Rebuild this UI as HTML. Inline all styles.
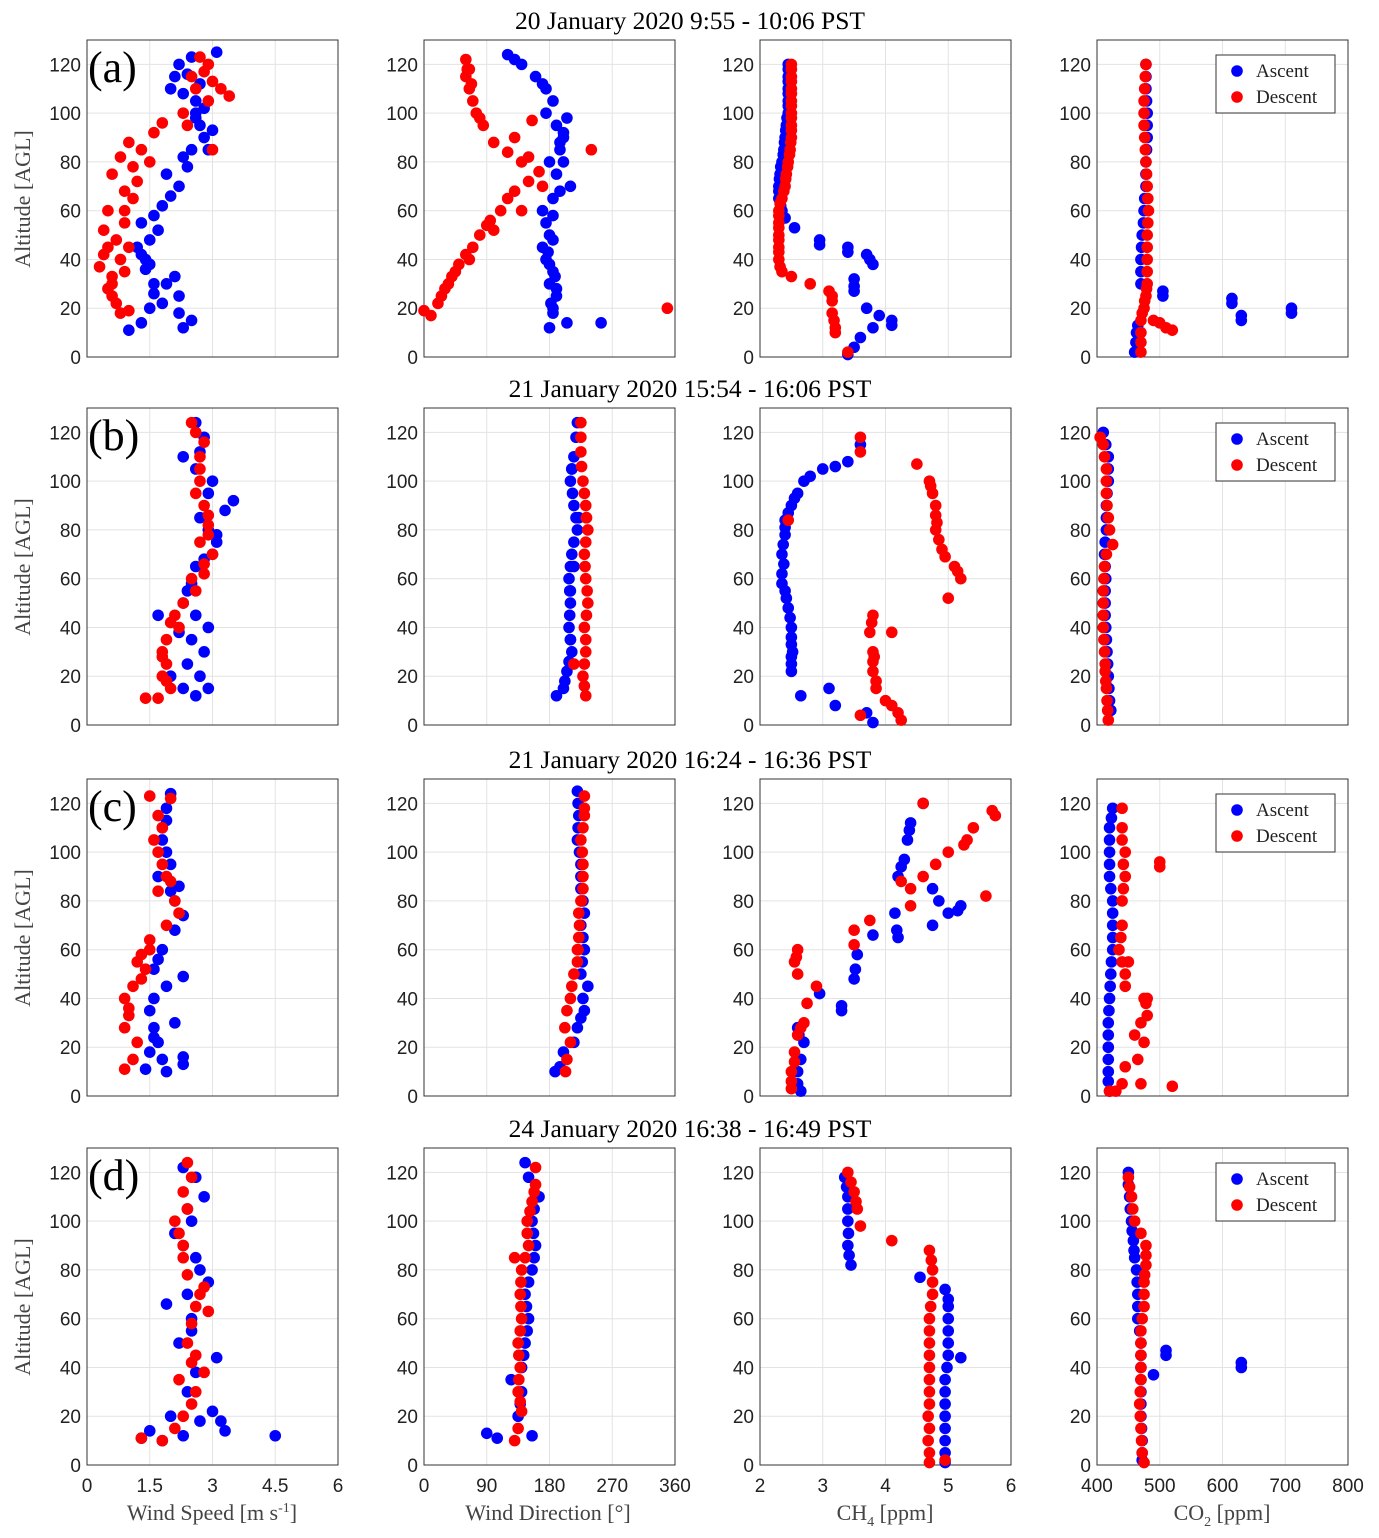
<!DOCTYPE html>
<html><head><meta charset="utf-8"><style>
body{margin:0;background:#fff;}
svg{display:block;}
text{font-family:"Liberation Sans",sans-serif;}
.serif{font-family:"Liberation Serif",serif;}
</style></head><body>
<svg id="fig" width="1379" height="1538" xmlns="http://www.w3.org/2000/svg"></svg>
<script>
// ---- data: [value, altitude] ----
const titles=["20 January 2020 9:55 - 10:06 PST","21 January 2020 15:54 - 16:06 PST","21 January 2020 16:24 - 16:36 PST","24 January 2020 16:38 - 16:49 PST"];
const letters=["(a)","(b)","(c)","(d)"];
const xDomains=[[0,6],[0,360],[2,6],[400,800]];
const xTicks=[[0,1.5,3,4.5,6],[0,90,180,270,360],[2,3,4,5,6],[400,500,600,700,800]];
const yTicks=[0,20,40,60,80,100,120];
const a1Blue=[[1,11],[1.3,14],[1.5,20],[1.8,22],[2.2,25],[2.3,12],[2.5,15],[1.6,30],[1.9,30],[2.1,33],[1.4,40],[1.2,45],[1.5,48],[1.3,55],[1.6,58],[1.8,62],[2,66],[2.2,70],[2.4,78],[2.5,85],[2.8,90],[3,93],[2.6,100],[2.3,108],[2.1,115],[2.2,120],[2.5,123],[3.1,125],[2.7,95],[2.9,85],[2.3,82],[1.9,75],[2.6,105],[2,110],[1.4,36],[1.6,26],[2.4,116],[2.7,112],[1.7,52],[1.3,42],[1.5,38],[2.2,18],[2.6,98],[2.8,102]];
const a1Red=[[0.3,37],[0.5,45],[0.4,52],[0.6,30],[0.7,22],[0.8,18],[1,19],[0.6,25],[0.8,40],[1,45],[0.5,60],[0.9,60],[1.1,65],[0.6,75],[0.8,82],[1,88],[1.3,85],[1.6,92],[1.8,96],[2.3,100],[2.6,110],[2.8,117],[3,113],[3.4,107],[2.7,123],[2.9,105],[3,85],[2.4,95],[1.5,80],[1.2,72],[0.9,55],[0.7,48],[0.5,28],[0.9,35],[2.5,115],[2.9,120],[3.2,110],[0.4,42],[0.6,33],[1.1,78],[0.9,68]];
const a2Blue=[[180,12],[205,14],[254,14],[185,20],[190,25],[180,30],[185,35],[175,40],[170,45],[180,50],[175,55],[170,60],[185,65],[210,70],[190,75],[180,80],[195,85],[200,90],[190,95],[205,98],[185,105],[175,110],[160,115],[140,120],[120,124],[200,80],[175,100],[185,18],[190,28],[180,38],[185,48],[195,88],[200,92],[170,112],[130,122],[182,22],[188,33],[178,43],[185,58],[195,68]];
const a2Red=[[0,19],[10,17],[20,22],[30,28],[40,33],[50,38],[60,42],[70,45],[80,50],[95,56],[110,60],[130,68],[150,72],[165,76],[140,80],[120,84],[100,88],[85,95],[75,100],[70,105],[65,110],[60,115],[60,122],[120,65],[140,60],[170,70],[349,20],[240,85],[155,97],[130,90],[25,25],[45,35],[65,40],[100,52],[65,118],[80,98],[150,82],[35,30],[90,54],[68,112],[62,118]];
const a3Blue=[[2.35,60],[2.33,62],[2.3,65],[2.3,68],[2.3,70],[2.31,73],[2.32,75],[2.33,78],[2.35,80],[2.37,83],[2.38,85],[2.39,88],[2.4,90],[2.41,93],[2.42,95],[2.43,98],[2.45,100],[2.45,103],[2.45,105],[2.45,108],[2.45,110],[2.45,113],[2.45,115],[2.45,118],[2.45,120],[2.55,53],[2.95,48],[3.4,45],[3.7,42],[3.8,38],[3.5,32],[3.5,27],[3.7,20],[3.9,17],[4.1,15],[3.8,12],[3.6,8],[3.5,4],[3.4,1],[2.4,57],[2.95,46],[3.4,43],[3.75,40],[3.5,29],[4.1,13]];
const a3Red=[[2.5,120],[2.5,118],[2.5,115],[2.5,113],[2.5,110],[2.5,108],[2.5,105],[2.5,103],[2.5,100],[2.5,98],[2.5,95],[2.5,93],[2.5,90],[2.49,88],[2.48,85],[2.47,83],[2.45,80],[2.44,78],[2.42,75],[2.41,73],[2.4,70],[2.38,68],[2.35,65],[2.32,63],[2.3,60],[2.3,58],[2.3,55],[2.3,53],[2.3,50],[2.3,48],[2.3,45],[2.3,43],[2.3,40],[2.32,37],[2.35,35],[2.5,33],[2.8,30],[3.1,27],[3.15,25],[3.15,23],[3.15,18],[3.18,15],[3.2,12],[3.2,10],[3.4,2]];
const a4Blue=[[460,2],[462,6],[463,10],[465,13],[505,25],[505,27],[615,22],[615,24],[630,17],[630,15],[710,20],[710,18],[470,30],[470,35],[470,40],[471,45],[472,50],[474,55],[475,60],[476,65],[478,70],[478,75],[478,80],[479,85],[480,90],[480,95],[480,100],[479,105],[478,110],[478,115],[478,120]];
const a4Red=[[470,2],[470,6],[470,10],[470,15],[472,18],[475,20],[476,23],[478,25],[479,28],[480,30],[480,35],[480,40],[480,45],[480,50],[481,55],[482,60],[481,65],[480,70],[479,75],[478,80],[477,85],[476,90],[475,95],[475,100],[475,105],[476,110],[477,115],[478,120],[500,14],[520,11],[510,12],[490,15]];
const b1Blue=[[2.6,124],[2.8,118],[2.3,110],[2.6,105],[3,100],[3.5,92],[3.3,88],[2.9,80],[3.1,75],[3,70],[2.6,65],[2.5,58],[2.3,50],[2.6,45],[2.9,40],[1.7,45],[2.5,35],[2.8,30],[2.4,25],[2.7,20],[2.9,15],[2.6,12],[2.3,15],[2,20],[2.9,95],[2.7,85],[2.7,112],[3.1,78],[2.8,68],[2.4,55],[2.2,38]];
const b1Red=[[2.5,124],[2.6,120],[2.8,116],[2.7,110],[2.7,100],[2.8,90],[2.9,82],[2.7,75],[3,70],[2.8,62],[2.6,55],[2.3,50],[2.1,45],[2.2,40],[1.9,35],[1.8,30],[1.9,25],[1.8,20],[2,15],[1.7,11],[1.4,11],[2.6,95],[2.9,86],[2.5,60],[2,42],[2.7,105],[2.9,78],[2.8,66],[1.8,28],[1.9,18]];
const b2Blue=[[220,124],[218,118],[215,110],[212,105],[210,100],[213,95],[215,90],[218,85],[220,80],[215,75],[212,70],[210,65],[208,60],[209,55],[210,50],[209,45],[208,40],[210,35],[212,30],[208,26],[205,22],[202,18],[200,15],[190,12],[215,65],[222,85],[212,105],[210,55],[210,35]];
const b2Red=[[225,124],[225,118],[225,112],[226,106],[228,100],[230,95],[232,90],[233,85],[235,80],[232,75],[230,70],[231,65],[232,60],[234,55],[235,50],[233,45],[230,40],[232,35],[232,30],[230,25],[228,20],[230,16],[232,12],[215,25],[233,85]];
const b3Blue=[[3.6,115],[3.4,108],[3,105],[2.7,100],[2.6,95],[2.5,90],[2.4,84],[2.4,78],[2.35,70],[2.35,62],[2.4,55],[2.45,48],[2.5,40],[2.5,33],[2.5,25],[2.65,12],[3.1,15],[3.2,8],[3.7,5],[3.8,1],[2.38,66],[2.42,52],[2.48,44],[2.5,28],[2.37,74],[2.4,81],[2.45,87],[2.55,93],[2.8,102],[3.2,106],[2.35,58],[2.5,36],[2.52,30],[2.5,22]];
const b3Red=[[3.6,118],[3.6,112],[4.5,107],[4.7,100],[4.8,90],[4.8,80],[4.9,72],[5.1,65],[5.2,60],[5,52],[3.8,45],[3.75,38],[4.1,38],[3.8,30],[3.8,22],[3.85,15],[4,10],[4.2,5],[4.25,2],[3.6,4],[2.45,84],[4.75,95],[4.85,76],[3.8,26],[4.72,98],[4.8,86],[4.82,83],[4.95,69],[5.15,63],[3.78,42],[3.82,28],[3.85,18],[4.1,8]];
const b4Blue=[[410,120],[414,115],[418,110],[418,105],[418,100],[416,95],[415,90],[415,85],[415,80],[413,75],[412,70],[413,65],[414,60],[413,55],[413,50],[413,45],[414,40],[415,35],[416,30],[417,25],[418,20],[419,15],[420,10],[422,6]];
const b4Red=[[405,118],[410,115],[412,110],[415,105],[415,100],[415,95],[416,90],[418,85],[420,80],[425,74],[415,70],[412,65],[411,60],[410,55],[410,50],[410,45],[410,40],[411,35],[412,30],[413,25],[413,22],[414,18],[415,15],[416,10],[417,6],[418,2]];
const c1Blue=[[2,124],[1.9,118],[1.8,110],[1.9,100],[1.7,90],[2.2,86],[2.3,74],[2.1,68],[1.8,60],[1.6,52],[2.3,49],[1.9,45],[1.6,40],[1.5,35],[1.6,28],[2.1,30],[1.7,22],[1.5,18],[1.8,15],[2.3,16],[2.3,13],[1.9,10],[1.4,11],[2.1,80],[1.8,105],[2,95],[1.9,113],[2,84],[1.7,56],[1.6,24]];
const c1Red=[[1.5,123],[2,122],[1.7,115],[1.6,105],[1.8,95],[2,88],[2.1,80],[2.2,75],[1.9,70],[1.5,64],[1.3,58],[1.4,52],[1.1,45],[0.9,40],[1,33],[0.9,28],[1.2,22],[1.1,15],[0.9,11],[1.5,60],[1.8,110],[1.7,100],[1.3,48],[1,36],[1.9,90],[1.7,84],[1.2,55]];
const c2Blue=[[220,125],[221,120],[222,115],[221,110],[220,105],[223,100],[225,95],[225,90],[225,85],[228,80],[230,75],[225,70],[228,65],[230,60],[227,55],[225,50],[235,45],[228,40],[230,35],[225,32],[220,28],[215,22],[200,18],[195,12],[188,10]];
const c2Red=[[230,123],[230,118],[230,115],[228,110],[225,105],[227,100],[228,95],[228,90],[228,85],[225,80],[222,75],[223,70],[222,65],[221,60],[220,55],[215,50],[212,45],[210,40],[205,35],[202,28],[210,22],[205,15],[203,10],[226,80],[220,60]];
const c3Blue=[[2.6,5],[2.6,10],[2.65,15],[2.7,22],[2.6,28],[2.95,42],[3.3,35],[3.5,48],[3.55,58],[3.8,66],[4.2,65],[4.15,75],[4.2,90],[4.3,97],[4.35,105],[4.4,112],[4.75,85],[4.85,80],[5,75],[5.2,78],[4.75,70],[4.6,120],[2.65,2],[2.62,25],[3.3,37],[3.52,52],[4.18,68],[4.25,94],[4.38,109],[5.15,76]];
const c3Red=[[2.5,3],[2.5,10],[2.55,18],[2.6,25],[2.7,30],[2.75,38],[2.9,45],[2.6,50],[2.55,55],[2.6,60],[3.5,62],[3.5,68],[3.75,72],[4.25,88],[4.4,85],[4.6,90],[4.8,95],[5,100],[5.3,105],[5.4,110],[5.75,115],[4.6,120],[4.4,78],[5.6,82],[2.5,6],[2.55,14],[2.65,28],[2.58,57],[5.25,103],[5.7,117]];
const c4Blue=[[420,2],[418,6],[418,10],[418,15],[418,20],[418,25],[418,30],[419,35],[420,40],[421,45],[422,50],[423,55],[425,60],[425,65],[425,70],[425,75],[425,80],[422,85],[420,90],[420,95],[420,100],[420,105],[420,110],[423,114],[425,118]];
const c4Red=[[420,2],[430,2],[440,5],[470,5],[520,4],[445,12],[465,15],[460,25],[475,22],[470,30],[480,33],[475,40],[445,45],[440,55],[435,60],[440,70],[440,80],[445,90],[445,100],[440,110],[440,118],[500,96],[480,40],[450,55],[442,85],[442,95],[440,105],[438,65],[445,50],[478,38],[500,94]];
const d1Blue=[[1.3,11],[1.5,14],[1.8,10],[2.3,12],[2.7,18],[3,22],[3.2,18],[3.3,14],[4.5,12],[2,20],[2.4,30],[2.6,38],[3.1,44],[2.2,50],[2.5,60],[1.9,66],[2.4,70],[2.7,80],[2.3,90],[2.5,100],[2.8,110],[2.6,118],[2.3,122],[2.9,75],[2.1,95],[2.6,85],[2.4,105],[2.5,55]];
const d1Red=[[1.3,11],[1.8,10],[2.1,15],[2.3,20],[2.5,25],[2.6,30],[2.8,38],[2.5,42],[2.4,50],[2.5,58],[2.9,63],[2.7,70],[2.4,78],[2.3,85],[2.2,95],[2.1,100],[2.4,105],[2.3,112],[2.5,118],[2.4,124],[2.6,65],[2.2,35],[2.8,73],[2.6,45],[2.3,90]];
const d2Blue=[[90,13],[105,11],[155,12],[135,20],[138,25],[140,30],[125,35],[140,40],[143,45],[145,50],[148,55],[150,60],[147,65],[145,70],[150,75],[155,80],[158,85],[160,90],[157,95],[155,100],[158,105],[160,110],[150,118],[145,124],[165,110]];
const d2Red=[[130,10],[135,15],[140,22],[138,26],[135,30],[136,35],[138,40],[136,45],[135,50],[138,55],[140,60],[139,65],[138,70],[139,75],[140,80],[145,85],[150,90],[148,95],[148,100],[152,104],[155,108],[158,112],[160,115],[160,122],[130,85]];
const d3Blue=[[3.35,118],[3.38,114],[3.4,110],[3.4,105],[3.4,100],[3.41,95],[3.4,90],[3.42,86],[3.45,82],[4.55,77],[4.95,72],[5,68],[5,65],[5,60],[5,55],[5,50],[5,45],[4.98,40],[4.95,35],[4.95,30],[4.95,25],[4.95,20],[4.95,15],[4.95,10],[4.95,5],[5.2,44],[4.95,1]];
const d3Red=[[3.4,120],[3.45,116],[3.5,112],[3.53,108],[3.55,105],[3.6,98],[4.1,92],[4.7,88],[4.73,84],[4.75,80],[4.75,75],[4.75,70],[4.72,65],[4.7,60],[4.7,55],[4.7,50],[4.7,45],[4.7,40],[4.7,35],[4.7,30],[4.7,25],[4.68,20],[4.7,15],[4.68,10],[4.7,5],[4.7,1],[4.95,2]];
const d4Blue=[[450,120],[450,115],[452,110],[453,105],[455,100],[456,96],[458,92],[459,88],[460,85],[463,80],[464,75],[465,70],[465,65],[465,60],[468,55],[470,50],[470,45],[470,40],[470,35],[470,30],[470,25],[470,20],[471,15],[472,10],[472,5],[472,2],[510,45],[510,47],[490,37],[630,42],[630,40]];
const d4Red=[[450,118],[452,114],[455,110],[457,105],[460,100],[470,95],[478,90],[478,86],[478,82],[476,78],[475,75],[475,70],[475,65],[472,60],[470,55],[470,50],[470,45],[470,40],[470,35],[469,30],[468,25],[469,20],[470,15],[471,10],[472,5],[475,1]];
const panels=[[a1Blue,a1Red,a2Blue,a2Red,a3Blue,a3Red,a4Blue,a4Red],[b1Blue,b1Red,b2Blue,b2Red,b3Blue,b3Red,b4Blue,b4Red],[c1Blue,c1Red,c2Blue,c2Red,c3Blue,c3Red,c4Blue,c4Red],[d1Blue,d1Red,d2Blue,d2Red,d3Blue,d3Red,d4Blue,d4Red]];

const NS="http://www.w3.org/2000/svg";
const svg=document.getElementById('fig');
function mk(tag,attrs,parent){const e=document.createElementNS(NS,tag);for(const k in attrs)e.setAttribute(k,attrs[k]);(parent||svg).appendChild(e);return e;}
const colLeft=[87,424,760,1097], W=251;
const rowBottom=[357,725,1096,1465], H=317, altMax=130;
function xs(c,v){const d=xDomains[c];return colLeft[c]+(v-d[0])/(d[1]-d[0])*W;}
function ys(r,a){return rowBottom[r]-a/altMax*H;}
const panelNames=["wind-speed","wind-direction","ch4","co2"];
for(let r=0;r<4;r++){
  const t=mk('text',{x:690,y:rowBottom[r]-328,'text-anchor':'middle','font-size':25.5,'class':'serif',fill:'#000'});
  t.textContent=titles[r];
  
  
  const yl=mk('text',{x:0,y:0,transform:`translate(30,${rowBottom[r]-158}) rotate(-90)`,'text-anchor':'middle','font-size':22,'class':'serif',fill:'#444'});
  yl.textContent="Altitude [AGL]";
  
  
  for(let c=0;c<4;c++){
    const g=mk('g',{});
    
    
    const top=rowBottom[r]-H;
    mk('rect',{x:colLeft[c],y:top,width:W,height:H,fill:'#fff',stroke:'none'},g);
    for(const v of xTicks[c]){const x=xs(c,v);mk('line',{x1:x,x2:x,y1:top,y2:rowBottom[r],stroke:'#e3e3e3','stroke-width':1},g);}
    for(const a of yTicks){const y=ys(r,a);mk('line',{x1:colLeft[c],x2:colLeft[c]+W,y1:y,y2:y,stroke:'#e3e3e3','stroke-width':1},g);
      const tl=mk('text',{x:colLeft[c]-6,y:y+7,'text-anchor':'end','font-size':19,fill:'#222'},g);tl.textContent=a;
      
      }
    mk('rect',{x:colLeft[c],y:top,width:W,height:H,fill:'none',stroke:'#333','stroke-width':1},g);
    const series=[[panels[r][c*2],'#0000ff','ascent'],[panels[r][c*2+1],'#ff0000','descent']];
    for(const [pts,col,nm] of series){
      for(const p of pts){
        const m=mk('circle',{cx:xs(c,p[0]),cy:ys(r,p[1]),r:5.8,fill:col},g);
        
        
      }
    }
    if(r===3){
      for(const v of xTicks[c]){const tl=mk('text',{x:xs(c,v),y:rowBottom[r]+27,'text-anchor':'middle','font-size':19,fill:'#222'});tl.textContent=v;
        
        }
    }
    if(c===3){
      const lg=mk('g',{});
      
      
      mk('rect',{x:1216,y:top+15,width:119,height:58,fill:'#fff',stroke:'#333','stroke-width':1},lg);
      [['Ascent','#0000ff'],['Descent','#ff0000']].forEach((e,i)=>{
        mk('circle',{cx:1237,cy:top+31+i*26,r:5.8,fill:e[1]},lg);
        const lt=mk('text',{x:1256,y:top+37+i*26,'font-size':19,'class':'serif',fill:'#222'},lg);lt.textContent=e[0];
        
        
      });
    }
  }
  const pl=mk('text',{x:88,y:rowBottom[r]-275,'font-size':44,'class':'serif',fill:'#000'});
  pl.textContent=letters[r];
  
  
}
const xl=[[212,"Wind Speed [m s",'-1',"]"],[548,"Wind Direction [°]"],[885,"CH",'4'," [ppm]"],[1222,"CO",'2'," [ppm]"]];
xl.forEach((d,i)=>{
  const t=mk('text',{x:d[0],y:1520,'text-anchor':'middle','font-size':22,'class':'serif',fill:'#444'});
  
  
  const s1=mk('tspan',{},t);s1.textContent=d[1];
  if(d[2]){const s2=mk('tspan',{'font-size':14,dy:(i===0?-8:6)},t);s2.textContent=d[2];
    const s3=mk('tspan',{dy:(i===0?8:-6)},t);s3.textContent=d[3];}
});
</script>
</body></html>
